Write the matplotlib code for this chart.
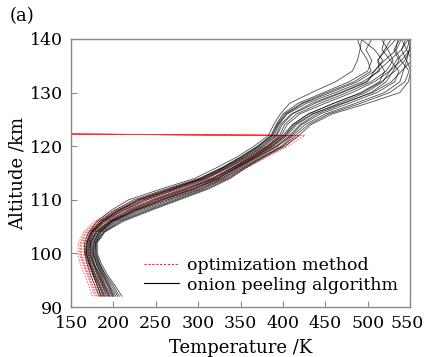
import matplotlib
matplotlib.use("Agg")
import matplotlib.pyplot as plt
import matplotlib.transforms as mtransforms
from matplotlib.lines import Line2D

# altitude grid (km) for the retrieved profiles
alt = [92, 94, 96, 98, 100, 102, 104, 106, 108, 110, 112, 114, 116,
       118, 120, 122, 124, 126, 128, 130, 132, 134, 136, 138, 140]

# onion peeling algorithm, temperature (K) per profile
onion = [
    [183, 178, 173, 169, 166, 166, 171, 181, 197, 218, 256, 296, 322, 346, 366, 383, 389, 397, 408, 434, 462, 482, 488, 491, 493],
    [210, 202, 193, 186, 181, 181, 190, 212, 244, 278, 312, 338, 357, 379, 403, 419, 433, 458, 500, 538, 548, 551, 546, 549, 552],
    [190, 185, 179, 174, 170, 171, 176, 188, 206, 232, 268, 306, 332, 354, 374, 390, 395, 405, 428, 462, 494, 514, 512, 520, 528],
    [200, 194, 188, 182, 177, 178, 185, 202, 230, 264, 300, 328, 348, 370, 392, 408, 420, 440, 472, 504, 522, 530, 537, 531, 538],
    [194, 188, 182, 177, 173, 173, 179, 194, 216, 246, 282, 316, 340, 361, 381, 396, 402, 416, 444, 476, 504, 522, 530, 524, 516],
    [205, 198, 190, 184, 179, 179, 188, 207, 238, 272, 306, 333, 353, 375, 398, 412, 426, 450, 486, 520, 538, 542, 546, 540, 545],
    [186, 181, 176, 171, 167, 168, 173, 184, 201, 224, 262, 301, 328, 350, 370, 386, 392, 400, 418, 448, 478, 500, 505, 498, 505],
    [198, 191, 185, 180, 175, 176, 183, 198, 224, 256, 292, 322, 344, 366, 386, 402, 412, 430, 460, 492, 514, 520, 512, 522, 534],
    [192, 187, 181, 176, 171, 172, 177, 191, 212, 240, 276, 311, 336, 358, 378, 393, 399, 411, 438, 470, 500, 508, 520, 534, 540],
    [203, 196, 189, 183, 178, 179, 186, 204, 234, 268, 303, 330, 350, 372, 394, 410, 422, 444, 478, 511, 532, 537, 527, 517, 520],
    [196, 190, 184, 178, 174, 174, 181, 197, 222, 252, 288, 319, 342, 364, 384, 400, 411, 430, 460, 494, 516, 532, 544, 550, 548],
    [185, 181, 176, 172, 168, 169, 174, 186, 204, 228, 265, 304, 330, 352, 372, 388, 394, 404, 424, 456, 488, 508, 518, 508, 492],
    [189, 184, 178, 173, 169, 170, 175, 189, 210, 236, 272, 308, 334, 356, 376, 392, 397, 410, 434, 468, 498, 512, 526, 540, 548],
    [207, 200, 191, 184, 180, 180, 189, 209, 241, 275, 309, 336, 355, 377, 400, 415, 430, 454, 492, 526, 544, 549, 539, 533, 536],
    [195, 189, 183, 177, 172, 173, 180, 196, 219, 249, 285, 318, 341, 363, 383, 398, 405, 420, 450, 482, 508, 526, 534, 546, 550],
    [201, 195, 187, 181, 176, 177, 184, 200, 227, 260, 296, 325, 346, 368, 389, 405, 416, 436, 466, 498, 518, 526, 540, 550, 552],
    [188, 183, 177, 172, 168, 169, 174, 187, 207, 230, 270, 303, 329, 351, 371, 387, 393, 402, 422, 452, 484, 504, 500, 492, 488],
    [199, 193, 186, 180, 176, 176, 183, 199, 225, 258, 294, 324, 345, 367, 387, 403, 414, 434, 470, 506, 528, 540, 552, 546, 540],
]

# optimization method, temperature (K); last point is the wrap-around sample
opt_alt = [92, 94, 96, 98, 100, 102, 104, 106, 108, 110, 112, 114, 116, 118, 120, 122, 122.4]
optim = [
    [175, 171, 166, 161, 158, 159, 165, 178, 200, 228, 266, 306, 334, 358, 381, 400, 0],
    [186, 181, 175, 170, 166, 167, 173, 188, 213, 246, 284, 320, 346, 370, 393, 410, 0],
    [196, 189, 183, 177, 173, 174, 181, 198, 228, 264, 302, 334, 358, 382, 406, 426, 0],
    [181, 176, 171, 166, 162, 163, 170, 184, 207, 238, 276, 314, 341, 365, 388, 405, 0],
    [191, 186, 180, 174, 170, 171, 178, 194, 220, 254, 292, 327, 352, 376, 399, 418, 0],
    [178, 174, 169, 164, 160, 161, 167, 180, 203, 233, 271, 310, 337, 361, 384, 396, 0],
    [184, 179, 173, 168, 164, 165, 171, 185, 210, 242, 280, 312, 330, 356, 380, 400, 0],
    [188, 183, 177, 171, 167, 168, 175, 191, 217, 250, 288, 322, 346, 369, 392, 412, 0],
    [193, 187, 181, 175, 171, 172, 179, 196, 224, 258, 296, 330, 354, 378, 401, 420, 0],
    [180, 175, 170, 165, 161, 162, 168, 182, 205, 236, 274, 308, 336, 360, 382, 394, 0],
]

xticks = [150, 200, 250, 300, 350, 400, 450, 500, 550]
yticks = [90, 100, 110, 120, 130, 140]

plt.rcParams['font.family'] = ['DejaVu Serif']
plt.rcParams['font.size'] = 13

fig = plt.figure(figsize=(4.24, 3.57), dpi=100)
ax = fig.add_axes([0.1675, 0.140, 0.7995, 0.751])

for t in optim:
    ax.plot(t, opt_alt, color='#ff2a2a', lw=0.6, ls=(0, (2, 1.5)), alpha=0.8)
for t in onion:
    ax.plot(t, alt, color='black', lw=0.6, alpha=0.7)

ax.set_xlim(150, 550)
ax.set_ylim(90, 140)
ax.set_xticks(xticks)
ax.set_yticks(yticks)
ax.tick_params(direction='in', length=4, color='#888888', pad=6, labelsize=12.5)
for s in ax.spines.values():
    s.set_color('#888888')
    s.set_linewidth(1.0)

# keep the last x tick label inside the figure
last = ax.get_xticklabels()[-1]
last.set_transform(last.get_transform() + mtransforms.ScaledTranslation(-3 / 100, 0, fig.dpi_scale_trans))

ax.set_xlabel('Temperature /K', labelpad=5)
ax.set_ylabel('Altitude /km', labelpad=2)

handles = [Line2D([], [], color='#ff2a2a', lw=0.8, ls=(0, (2, 1.5))),
           Line2D([], [], color='black', lw=0.8)]
ax.legend(handles, ['optimization method', 'onion peeling algorithm'],
          loc='lower right', bbox_to_anchor=(1.0, 0.005), frameon=False,
          fontsize=12.5, handlelength=2.0, handletextpad=0.45,
          labelspacing=0.15, borderaxespad=0.3)

fig.text(0.022, 0.955, '(a)', va='center', ha='left')

fig.savefig('out.png', dpi=100)
